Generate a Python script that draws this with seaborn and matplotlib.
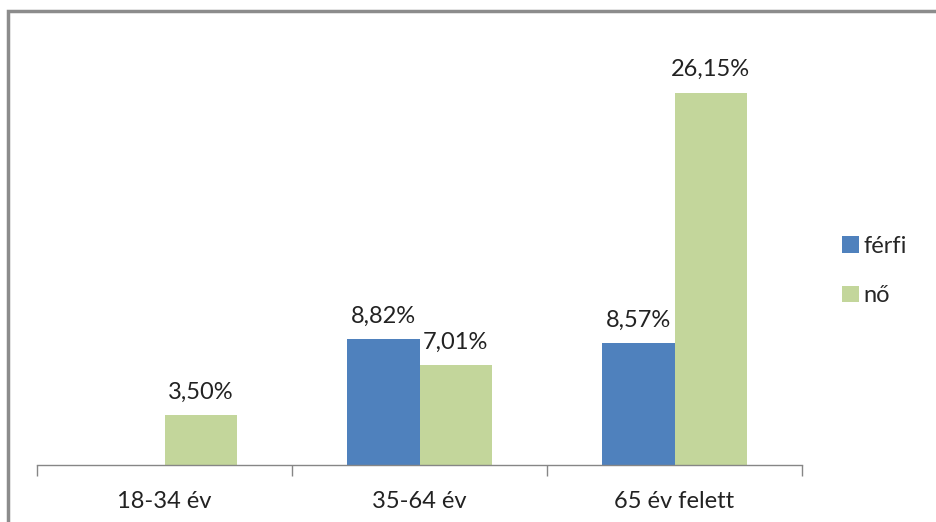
import numpy as np
import pandas as pd
import matplotlib.pyplot as plt
import matplotlib.patches as mpatches
import seaborn as sns

categories = ['18-34 év', '35-64 év', '65 év felett']
ferfi = [np.nan, 8.82, 8.57]
no = [3.50, 7.01, 26.15]
series = ['férfi', 'nő']
colors = ['#4F81BD', '#C3D69B']

df = pd.DataFrame({
    'kategoria': categories * 2,
    'nem': [series[0]] * 3 + [series[1]] * 3,
    'ertek': ferfi + no,
})

sns.set_style('white')
plt.rcParams['font.family'] = ['Lato', 'DejaVu Sans']

fig = plt.figure(figsize=(9.36, 5.22), dpi=100)
W, H = 936, 522
ax = fig.add_axes([37 / W, 1 - 465 / H, (802 - 37) / W, (465 - 38) / H])

sns.barplot(data=df, x='kategoria', y='ertek', hue='nem', palette=colors,
            width=0.567, gap=0, saturation=1, linewidth=0, ax=ax, legend=True)

for cont in ax.containers:
    labels = ['' if np.isnan(v) else f'{v:.2f}%'.replace('.', ',') for v in cont.datavalues]
    ax.bar_label(cont, labels=labels, padding=9, fontsize=17, color='#222222')

ax.set_ylim(0, 30)
ax.set_xlim(-0.5, 2.5)
ax.set_xlabel('')
ax.set_ylabel('')
ax.set_yticks([])
for s in ['top', 'right', 'left']:
    ax.spines[s].set_visible(False)
ax.spines['bottom'].set_color('#868686')
ax.spines['bottom'].set_linewidth(1)

ax.set_xticks(range(3))
ax.set_xticklabels(categories, fontsize=17, color='#222222')
ax.tick_params(axis='x', which='major', length=0, pad=19)
ax.set_xticks([-0.5, 0.5, 1.5, 2.5], minor=True)
ax.tick_params(axis='x', which='minor', length=8, color='#868686', width=1, direction='out')
ax.tick_params(axis='x', which='minor', bottom=True)

handles, lbls = ax.get_legend_handles_labels()
ax.legend(handles, lbls, loc='center left', bbox_to_anchor=(821 / W, 1 - 271 / H),
          bbox_transform=fig.transFigure, frameon=False, fontsize=17,
          handlelength=0.7, handleheight=0.7, handletextpad=0.2, labelspacing=1.2)

# outer frame of the chart area
fig.patches.append(mpatches.Rectangle((8 / W, -0.05), 1.2, 1 - 11 / H + 0.05,
                                      transform=fig.transFigure, fill=False,
                                      edgecolor='#8c8c8c', linewidth=2.5))

fig.savefig('out.png', dpi=100)
